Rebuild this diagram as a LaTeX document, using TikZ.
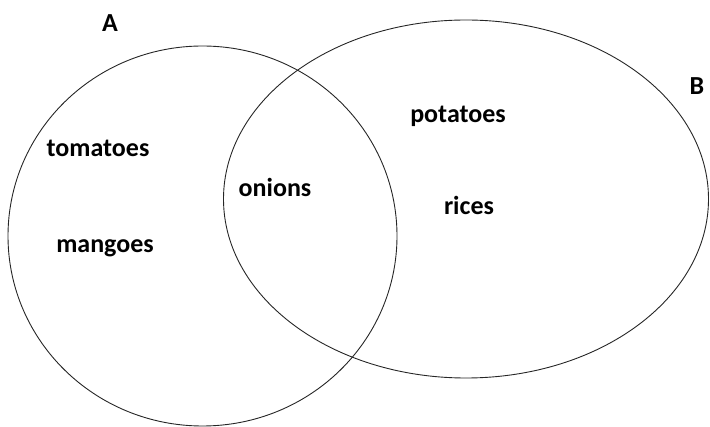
\documentclass[tikz,border=0pt]{standalone}
\usepackage{fontspec}
\setmainfont{Carlito}
\begin{document}
\begin{tikzpicture}[x=1pt,y=-1pt,
  lbl/.style={font=\fontsize{26}{30}\selectfont\bfseries, inner sep=0pt, anchor=base},
  setline/.style={draw=black!85, line width=0.9pt}]
\useasboundingbox (0,0) rectangle (710,427);
\draw[setline] (202.5,236) ellipse [x radius=194.5pt, y radius=190pt];
\draw[setline] (466,199) ellipse [x radius=242.5pt, y radius=179pt];
\node[lbl] (labA) at (110,32) {A};
\node[lbl] (labB) at (697,95) {B};
\node[lbl] (tom) at (98,157) {tomatoes};
\node[lbl] (man) at (105,253) {mangoes};
\node[lbl] (oni) at (275,197) {onions};
\node[lbl] (pot) at (458,123) {potatoes};
\node[lbl] (ric) at (469,215) {rices};
\end{tikzpicture}
\end{document}
